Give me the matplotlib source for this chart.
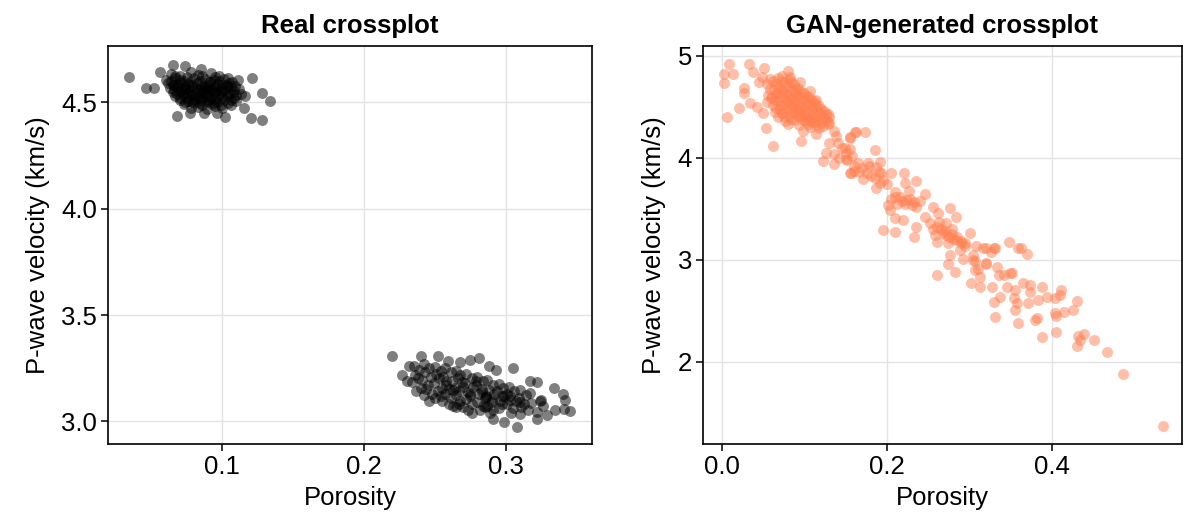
import matplotlib
matplotlib.use("Agg")
import matplotlib.pyplot as plt
import numpy as np

# real crossplot, upper (low porosity) cluster
real_por_a = [
    0.034, 0.046, 0.052, 0.056, 0.065, 0.074, 0.085, 0.111, 0.121, 0.128,
    0.134, 0.128, 0.120, 0.068, 0.102, 0.115, 0.077, 0.087, 0.096,
    0.064, 0.070, 0.078, 0.083, 0.092, 0.098,
    0.060, 0.067, 0.073, 0.080, 0.088, 0.094, 0.101, 0.107,
    0.062, 0.066, 0.071, 0.076, 0.082, 0.087, 0.091, 0.097, 0.103, 0.109,
    0.063, 0.068, 0.074, 0.079, 0.084, 0.089, 0.093, 0.099, 0.104, 0.112,
    0.065, 0.070, 0.075, 0.081, 0.086, 0.090, 0.095, 0.100, 0.106, 0.113,
    0.067, 0.072, 0.078, 0.083, 0.088, 0.092, 0.097, 0.103, 0.108, 0.116,
    0.070, 0.076, 0.081, 0.085, 0.090, 0.096, 0.101, 0.110,
    0.073, 0.080, 0.086, 0.093, 0.099, 0.106,
    0.078, 0.089, 0.100,
    0.067, 0.075, 0.086, 0.095, 0.104,
    0.064, 0.070, 0.077, 0.084, 0.091, 0.098, 0.105,
    0.065, 0.069, 0.074, 0.079, 0.085, 0.090, 0.095, 0.100, 0.106,
    0.066, 0.072, 0.077, 0.082, 0.087, 0.092, 0.097, 0.102, 0.108,
    0.068, 0.073, 0.079, 0.084, 0.089, 0.094, 0.099, 0.105, 0.110,
    0.070, 0.075, 0.080, 0.086, 0.091, 0.095, 0.100, 0.106,
    0.074, 0.079, 0.084, 0.089, 0.094, 0.104,
    0.083, 0.095,
]
real_vp_a = [
    4.617, 4.565, 4.568, 4.643, 4.675, 4.670, 4.654, 4.604, 4.615, 4.544,
    4.506, 4.415, 4.428, 4.435, 4.431, 4.473, 4.450, 4.450, 4.450,
    4.632, 4.625, 4.640, 4.628, 4.636, 4.622,
    4.605, 4.612, 4.598, 4.615, 4.607, 4.602, 4.610, 4.596,
    4.588, 4.580, 4.592, 4.585, 4.590, 4.578, 4.594, 4.586, 4.582, 4.575,
    4.565, 4.572, 4.560, 4.570, 4.563, 4.568, 4.558, 4.566, 4.571, 4.560,
    4.548, 4.553, 4.545, 4.550, 4.542, 4.556, 4.547, 4.551, 4.544, 4.540,
    4.528, 4.532, 4.535, 4.525, 4.530, 4.522, 4.534, 4.527, 4.520, 4.530,
    4.512, 4.505, 4.515, 4.508, 4.510, 4.503, 4.512, 4.505,
    4.490, 4.494, 4.486, 4.492, 4.488, 4.485,
    4.472, 4.468, 4.475,
    4.621, 4.618, 4.624, 4.617, 4.615,
    4.598, 4.603, 4.596, 4.601, 4.594, 4.599, 4.592,
    4.579, 4.583, 4.576, 4.581, 4.577, 4.582, 4.575, 4.579, 4.572,
    4.559, 4.563, 4.556, 4.561, 4.557, 4.562, 4.555, 4.558, 4.552,
    4.539, 4.543, 4.536, 4.541, 4.537, 4.542, 4.535, 4.538, 4.532,
    4.519, 4.522, 4.516, 4.521, 4.517, 4.515, 4.518, 4.512,
    4.499, 4.502, 4.497, 4.500, 4.496, 4.498,
    4.479, 4.481,
]

# real crossplot, lower (high porosity) cluster
real_por_b = [
    0.220, 0.232, 0.227, 0.230, 0.240, 0.252, 0.259, 0.268, 0.275, 0.281,
    0.288, 0.293, 0.305, 0.237, 0.242, 0.246, 0.260, 0.265, 0.273, 0.276,
    0.291, 0.299, 0.308, 0.285, 0.322, 0.329, 0.322, 0.334, 0.340, 0.342,
    0.345, 0.335, 0.341, 0.317, 0.322, 0.324,
    0.235, 0.236, 0.234,
    0.242, 0.243, 0.241, 0.244,
    0.250, 0.251, 0.249, 0.252, 0.250,
    0.257, 0.256, 0.258, 0.257, 0.255,
    0.265, 0.266, 0.264, 0.265, 0.267,
    0.272, 0.271, 0.273, 0.272, 0.270,
    0.280, 0.279, 0.281, 0.280, 0.282,
    0.287, 0.288, 0.286, 0.287, 0.289,
    0.295, 0.294, 0.296, 0.295,
    0.302, 0.303, 0.301, 0.304,
    0.310, 0.309, 0.311, 0.310,
    0.317, 0.318, 0.316,
    0.325, 0.326,
    0.239, 0.238, 0.240,
    0.246, 0.247, 0.245, 0.248,
    0.254, 0.253, 0.255, 0.254,
    0.261, 0.262, 0.260, 0.261, 0.263,
    0.268, 0.269, 0.267, 0.268,
    0.276, 0.277, 0.275, 0.276,
    0.284, 0.283, 0.285, 0.284,
    0.291, 0.292, 0.290, 0.291,
    0.298, 0.299, 0.297,
    0.306, 0.307, 0.305,
    0.314, 0.313,
    0.258, 0.263, 0.270, 0.275, 0.283, 0.290, 0.297, 0.303, 0.310, 0.279,
    0.286, 0.301,
]
real_vp_b = [
    3.307, 3.259, 3.220, 3.189, 3.307, 3.307, 3.283, 3.280, 3.290, 3.300,
    3.259, 3.240, 3.250, 3.145, 3.126, 3.098, 3.082, 3.066, 3.055, 3.042,
    3.012, 2.997, 2.973, 3.066, 3.012, 3.031, 3.045, 3.157, 3.129, 3.102,
    3.050, 3.055, 3.060, 3.192, 3.185, 3.098,
    3.262, 3.218, 3.183,
    3.268, 3.232, 3.194, 3.152,
    3.258, 3.224, 3.182, 3.143, 3.112,
    3.251, 3.207, 3.172, 3.128, 3.094,
    3.238, 3.204, 3.158, 3.122, 3.083,
    3.223, 3.182, 3.138, 3.104, 3.068,
    3.207, 3.172, 3.128, 3.093, 3.052,
    3.193, 3.148, 3.113, 3.072, 3.041,
    3.178, 3.142, 3.097, 3.063,
    3.163, 3.118, 3.084, 3.042,
    3.148, 3.112, 3.068, 3.033,
    3.132, 3.088, 3.053,
    3.102, 3.071,
    3.243, 3.204, 3.158,
    3.252, 3.208, 3.172, 3.128,
    3.238, 3.203, 3.158, 3.118,
    3.232, 3.188, 3.152, 3.108, 3.073,
    3.218, 3.183, 3.142, 3.098,
    3.203, 3.162, 3.118, 3.082,
    3.188, 3.152, 3.108, 3.072,
    3.172, 3.128, 3.093, 3.052,
    3.158, 3.118, 3.082,
    3.142, 3.098, 3.063,
    3.122, 3.082,
    3.190, 3.150, 3.160, 3.130, 3.140, 3.100, 3.120, 3.100, 3.090, 3.190,
    3.120, 3.130,
]

# GAN-generated crossplot
gan_por = [
    0.009, 0.003, 0.013, 0.003, 0.006, 0.033, 0.037, 0.051, 0.049, 0.045,
    0.058, 0.027, 0.027, 0.021, 0.034, 0.042, 0.050, 0.053, 0.062, 0.073,
    0.080, 0.082, 0.094, 0.106, 0.114, 0.098, 0.096, 0.114, 0.128, 0.128,
    0.136, 0.138, 0.129, 0.155, 0.161, 0.155, 0.126, 0.136, 0.122, 0.136,
    0.150, 0.156, 0.166,
    0.162, 0.173, 0.155, 0.149, 0.151, 0.155, 0.160, 0.171, 0.185, 0.177,
    0.187, 0.191, 0.193, 0.187, 0.191, 0.205, 0.220, 0.235, 0.221, 0.226,
    0.246, 0.209, 0.215, 0.223, 0.230, 0.233, 0.201, 0.203, 0.209, 0.219,
    0.195, 0.209, 0.235, 0.232, 0.246, 0.256, 0.261, 0.276, 0.283, 0.252,
    0.263, 0.271, 0.258, 0.271, 0.279, 0.260, 0.274, 0.283, 0.289, 0.288,
    0.294, 0.300, 0.276, 0.274, 0.282, 0.260, 0.304, 0.308, 0.306, 0.320,
    0.330, 0.326, 0.347, 0.359, 0.320, 0.310, 0.312, 0.336, 0.349,
    0.362, 0.369, 0.329, 0.316, 0.294, 0.292, 0.304, 0.320, 0.333, 0.306,
    0.302, 0.312, 0.327, 0.341, 0.351, 0.345, 0.355, 0.365, 0.373, 0.387,
    0.373, 0.329, 0.337, 0.353, 0.357, 0.355, 0.371, 0.383, 0.393, 0.403,
    0.409, 0.411, 0.403, 0.405, 0.414, 0.425, 0.430, 0.331, 0.358, 0.379,
    0.382, 0.387, 0.404, 0.431, 0.433, 0.430, 0.438, 0.450, 0.466, 0.485,
    0.534,
    0.055, 0.056, 0.054,
    0.062, 0.063, 0.061, 0.062, 0.064,
    0.068, 0.069, 0.067, 0.068, 0.070, 0.068,
    0.075, 0.074, 0.076, 0.075, 0.073, 0.076,
    0.081, 0.082, 0.080, 0.081, 0.083, 0.081, 0.080,
    0.087, 0.088, 0.086, 0.087, 0.089, 0.087,
    0.093, 0.092, 0.094, 0.093, 0.095, 0.093,
    0.099, 0.100, 0.098, 0.099, 0.101,
    0.105, 0.106, 0.104, 0.105, 0.107,
    0.111, 0.112, 0.110, 0.111,
    0.117, 0.118, 0.116, 0.117,
    0.123, 0.124, 0.122,
    0.129, 0.130,
    0.058, 0.059,
    0.065, 0.066, 0.064, 0.065,
    0.071, 0.072, 0.070, 0.071, 0.073,
    0.078, 0.077, 0.079, 0.078, 0.076,
    0.084, 0.085, 0.083, 0.084, 0.086, 0.084,
    0.090, 0.091, 0.089, 0.090, 0.092,
    0.096, 0.097, 0.095, 0.096, 0.098,
    0.102, 0.103, 0.101, 0.102, 0.104,
    0.108, 0.109, 0.107, 0.108,
    0.114, 0.115, 0.113, 0.114,
    0.120, 0.121, 0.119,
    0.126, 0.127,
    0.140, 0.145, 0.150, 0.142, 0.158, 0.165, 0.170, 0.175, 0.180, 0.185,
    0.195, 0.200, 0.178, 0.190, 0.160,
    0.210, 0.218, 0.222, 0.228, 0.235, 0.240, 0.212, 0.205,
    0.260, 0.265, 0.270, 0.275, 0.280, 0.285, 0.290, 0.268, 0.255, 0.278,
]
gan_vp = [
    4.918, 4.820, 4.820, 4.730, 4.400, 4.918, 4.843, 4.885, 4.790, 4.745,
    4.777, 4.690, 4.640, 4.490, 4.540, 4.500, 4.443, 4.296, 4.116, 4.800,
    4.853, 4.790, 4.740, 4.656, 4.570, 4.263, 4.165, 4.230, 4.427, 4.330,
    4.263, 4.210, 4.148, 4.200, 4.250, 4.090, 4.050, 4.035, 3.970, 3.940,
    3.985, 3.850, 3.860,
    4.257, 4.257, 4.190, 4.093, 3.980, 3.850, 3.870, 3.790, 4.077, 3.946,
    3.910, 3.960, 3.850, 3.700, 3.750, 3.850, 3.850, 3.770, 3.750, 3.677,
    3.644, 3.667, 3.620, 3.590, 3.536, 3.570, 3.536, 3.490, 3.406, 3.390,
    3.290, 3.268, 3.323, 3.225, 3.420, 3.514, 3.460, 3.504, 3.420, 3.357,
    3.370, 3.360, 3.240, 3.240, 3.255, 3.176, 3.160, 3.190, 3.160, 3.094,
    3.130, 3.258, 3.045, 2.960, 2.880, 2.850, 3.045, 3.130, 2.990, 3.110,
    3.110, 3.080, 3.176, 3.110, 2.960, 2.910, 2.830, 2.850, 2.865,
    3.117, 3.055, 3.117, 3.110, 3.160, 3.010, 3.000, 2.963, 2.930, 2.900,
    2.767, 2.735, 2.735, 2.850, 2.866, 2.735, 2.700, 2.767, 2.750, 2.734,
    2.686, 2.586, 2.636, 2.620, 2.570, 2.505, 2.570, 2.603, 2.636, 2.620,
    2.650, 2.700, 2.472, 2.450, 2.488, 2.505, 2.593, 2.433, 2.380, 2.406,
    2.430, 2.237, 2.290, 2.250, 2.210, 2.150, 2.270, 2.210, 2.095, 1.873,
    1.368,
    4.72, 4.62, 4.55,
    4.75, 4.68, 4.60, 4.52, 4.45,
    4.78, 4.70, 4.63, 4.56, 4.48, 4.40,
    4.74, 4.66, 4.59, 4.52, 4.44, 4.36,
    4.77, 4.70, 4.62, 4.55, 4.48, 4.41, 4.33,
    4.72, 4.65, 4.58, 4.51, 4.44, 4.37,
    4.68, 4.61, 4.54, 4.47, 4.40, 4.32,
    4.64, 4.57, 4.50, 4.43, 4.36,
    4.60, 4.53, 4.46, 4.39, 4.30,
    4.56, 4.49, 4.42, 4.35,
    4.51, 4.44, 4.37, 4.29,
    4.46, 4.38, 4.31,
    4.40, 4.34,
    4.68, 4.59,
    4.72, 4.64, 4.57, 4.49,
    4.75, 4.67, 4.60, 4.52, 4.44,
    4.71, 4.63, 4.56, 4.48, 4.40,
    4.74, 4.67, 4.59, 4.52, 4.45, 4.38,
    4.69, 4.62, 4.55, 4.48, 4.41,
    4.65, 4.58, 4.51, 4.44, 4.37,
    4.61, 4.54, 4.47, 4.40, 4.33,
    4.57, 4.50, 4.43, 4.36,
    4.53, 4.46, 4.39, 4.32,
    4.48, 4.41, 4.34,
    4.43, 4.36,
    4.15, 4.10, 4.05, 4.00, 4.02, 3.95, 3.90, 3.85, 3.82, 3.80,
    3.78, 3.74, 3.92, 3.86, 3.92,
    3.62, 3.58, 3.55, 3.60, 3.52, 3.58, 3.55, 3.60,
    3.32, 3.30, 3.28, 3.22, 3.20, 3.22, 3.18, 3.26, 3.30, 3.30,
]

assert len(real_por_a) == len(real_vp_a)
assert len(real_por_b) == len(real_vp_b)
assert len(gan_por) == len(gan_vp)

plt.rcParams['font.family'] = ['Liberation Sans', 'DejaVu Sans']

fig = plt.figure(figsize=(11.84, 5.29), dpi=100)
ax1 = fig.add_axes([108 / 1184, 85 / 529, 484 / 1184, 398 / 529])
ax2 = fig.add_axes([703 / 1184, 85 / 529, 479 / 1184, 398 / 529])

fs = 18.5


def style(ax, title):
    ax.set_title(title, fontsize=fs, fontweight='bold', pad=9)
    ax.set_xlabel('Porosity', fontsize=fs, labelpad=5)
    ax.set_ylabel('P-wave velocity (km/s)', fontsize=fs, labelpad=8)
    ax.grid(True, color='#e3e3e3', linewidth=1)
    ax.set_axisbelow(True)
    for s in ax.spines.values():
        s.set_linewidth(1.2)
    ax.tick_params(labelsize=fs, length=5, width=1.1, pad=3)


ax1.scatter(np.r_[real_por_a, real_por_b], np.r_[real_vp_a, real_vp_b],
            s=62, color='black', alpha=0.5, linewidths=0)
ax1.set_xlim(0.0194, 0.3608)
ax1.set_ylim(2.894, 4.764)
ax1.set_xticks([0.1, 0.2, 0.3])
ax1.set_xticklabels(['0.1', '0.2', '0.3'])
ax1.set_yticks([3.0, 3.5, 4.0, 4.5])
ax1.set_yticklabels(['3.0', '3.5', '4.0', '4.5'])
style(ax1, 'Real crossplot')

ax2.scatter(gan_por, gan_vp, s=62, color='#FF7F50', alpha=0.5, linewidths=0)
ax2.set_xlim(-0.023, 0.557)
ax2.set_ylim(1.19, 5.098)
ax2.set_xticks([0.0, 0.2, 0.4])
ax2.set_xticklabels(['0.0', '0.2', '0.4'])
ax2.set_yticks([2, 3, 4, 5])
ax2.set_yticklabels(['2', '3', '4', '5'])
style(ax2, 'GAN-generated crossplot')

fig.savefig('out.png', dpi=100)
